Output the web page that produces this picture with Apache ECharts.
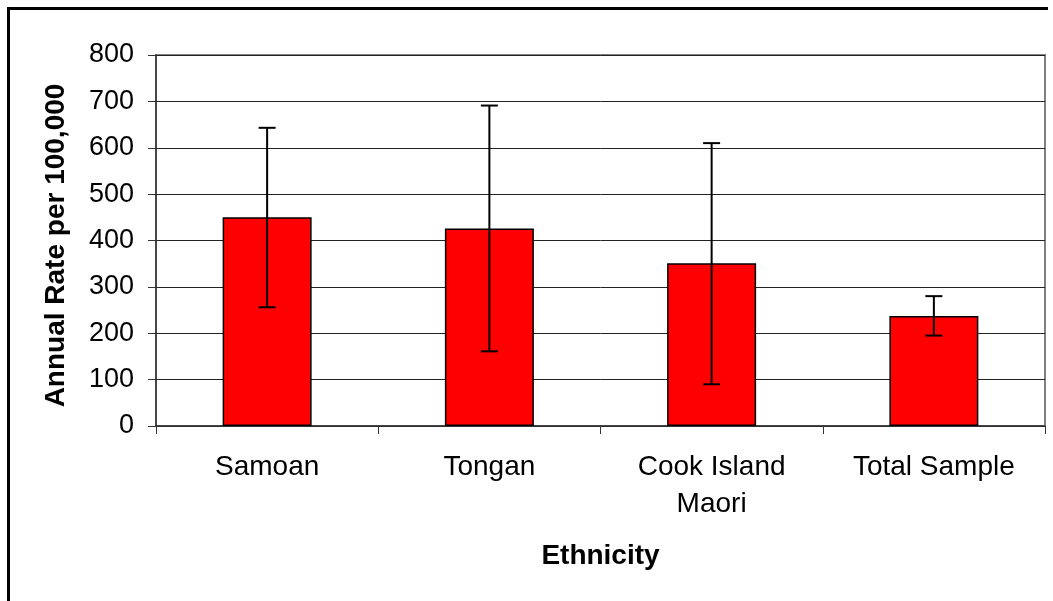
<!DOCTYPE html>
<html>
<head>
<meta charset="utf-8">
<script src="https://cdn.jsdelivr.net/npm/echarts@6/dist/echarts.min.js"></script>
<style>
html,body{margin:0;padding:0;background:#fff;}
#chart{width:1053px;height:601px;}
</style>
</head>
<body>
<div id="chart"></div>
<script>
const categories = ['Samoan', 'Tongan', 'Cook Island\nMaori', 'Total Sample'];
const rates = [450, 426, 351, 237];
const ciLower = [256, 161, 90, 195];
const ciUpper = [643, 691, 610, 280];
const yMin = 0, yMax = 800, yStep = 100;
const yAxisTitle = 'Annual Rate per 100,000';
const xAxisTitle = 'Ethnicity';

const FONT = "'Liberation Sans', Arial, sans-serif";
const chart = echarts.init(document.getElementById('chart'), null, {renderer: 'canvas'});

const errData = categories.map((c, i) => [i, ciLower[i], ciUpper[i]]);

chart.setOption({
  backgroundColor: '#ffffff',
  animation: false,
  textStyle: {fontFamily: FONT},
  grid: {
    left: 156, right: 8, top: 55, bottom: 175,
    show: true, borderColor: '#808080', borderWidth: 2, backgroundColor: 'transparent'
  },
  graphic: [{
    type: 'polyline',
    shape: {points: [[8.5, 640], [8.5, 8.5], [1048, 8.5]]},
    style: {stroke: '#000', lineWidth: 3, fill: null},
    z: 100
  }],
  xAxis: {
    type: 'category',
    data: categories,
    name: xAxisTitle,
    nameLocation: 'middle',
    nameGap: 116,
    nameTextStyle: {fontFamily: FONT, fontSize: 28, fontWeight: 'bold', color: '#000'},
    axisLine: {show: true, lineStyle: {color: '#333', width: 1.5}},
    axisTick: {show: true, alignWithLabel: false, length: 8, lineStyle: {color: '#333', width: 1}},
    axisLabel: {fontFamily: FONT, fontSize: 28, color: '#000', margin: 23, lineHeight: 37, interval: 0},
    splitLine: {show: false}
  },
  yAxis: {
    type: 'value',
    min: yMin, max: yMax, interval: yStep,
    name: yAxisTitle,
    nameLocation: 'middle',
    nameGap: 86,
    nameTextStyle: {fontFamily: FONT, fontSize: 28, fontWeight: 'bold', color: '#000', padding: [0, 10, 0, 0]},
    axisLine: {show: true, lineStyle: {color: '#333', width: 1.5}},
    axisTick: {show: true, length: 8, lineStyle: {color: '#333', width: 1}},
    axisLabel: {fontFamily: FONT, fontSize: 27, color: '#000', margin: 22},
    splitLine: {show: true, lineStyle: {color: '#222', width: 1}}
  },
  series: [{
    type: 'bar',
    data: rates,
    barWidth: 89,
    itemStyle: {color: '#ff0000', borderColor: '#000', borderWidth: 1.5},
    z: 2
  }, {
    type: 'custom',
    data: errData,
    z: 3,
    renderItem: function (params, api) {
      const x = api.value(0);
      const lo = api.coord([x, api.value(1)]);
      const hi = api.coord([x, api.value(2)]);
      const cap = 8.5;
      const st = {stroke: '#000', lineWidth: 2};
      return {
        type: 'group',
        children: [
          {type: 'line', shape: {x1: hi[0], y1: hi[1], x2: lo[0], y2: lo[1]}, style: st},
          {type: 'line', shape: {x1: hi[0] - cap, y1: hi[1], x2: hi[0] + cap, y2: hi[1]}, style: st},
          {type: 'line', shape: {x1: lo[0] - cap, y1: lo[1], x2: lo[0] + cap, y2: lo[1]}, style: st}
        ]
      };
    }
  }]
});
</script>
</body>
</html>
